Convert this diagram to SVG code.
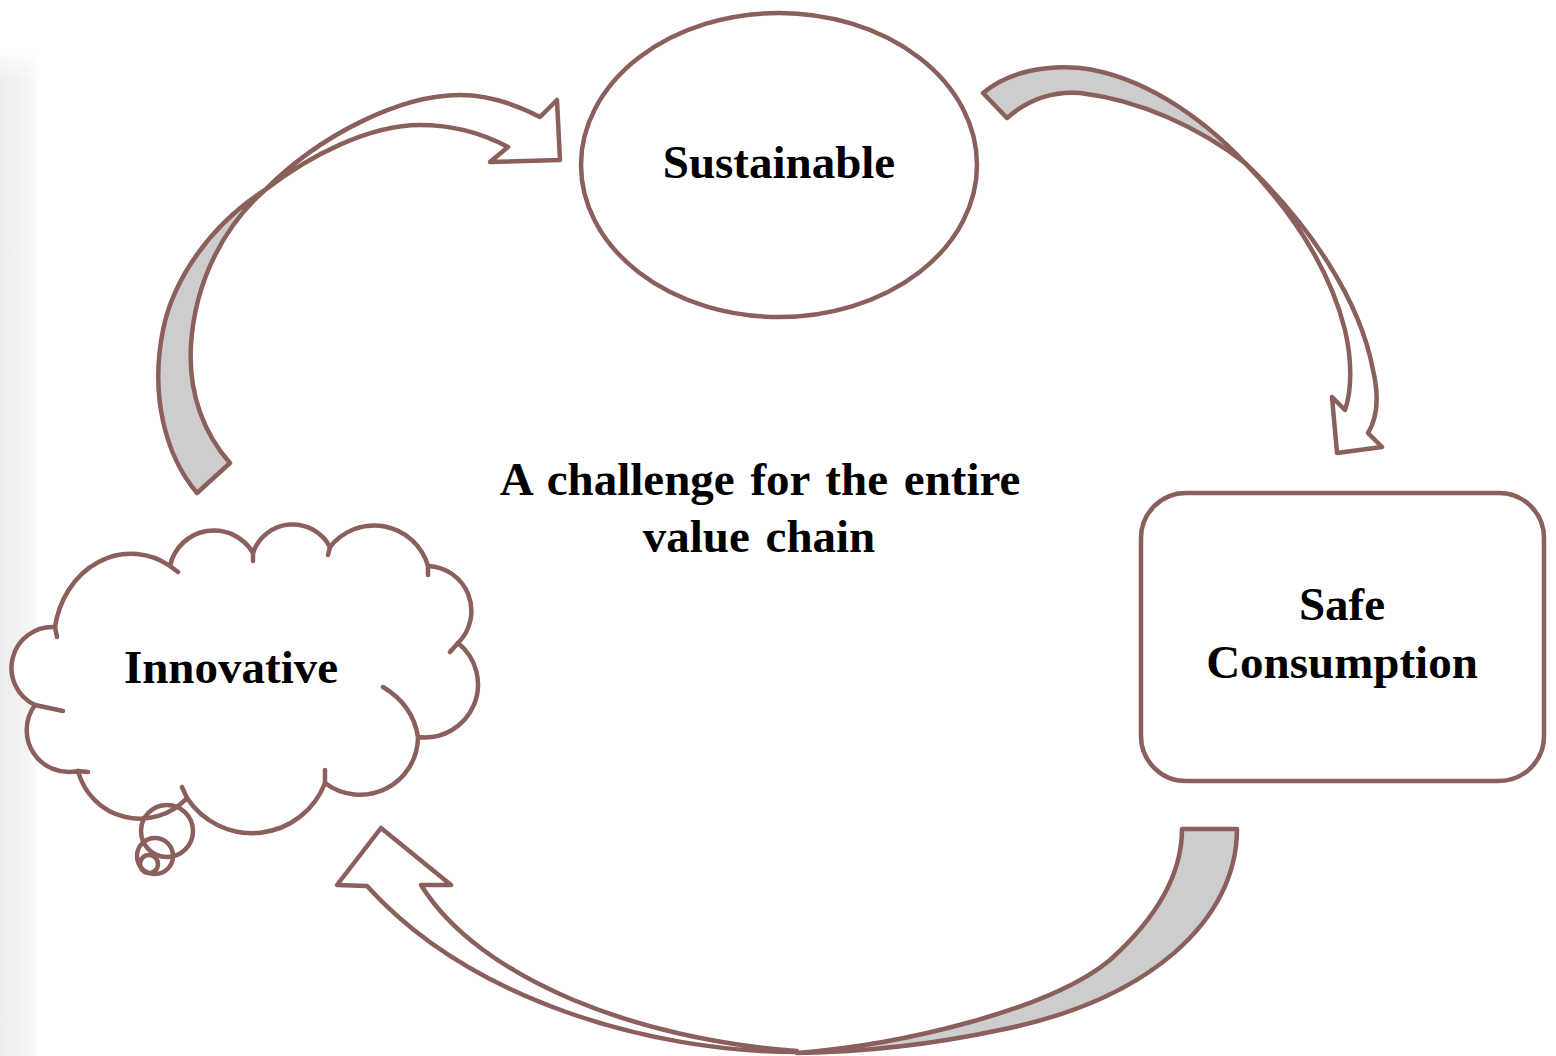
<svg xmlns="http://www.w3.org/2000/svg" width="1556" height="1056" viewBox="0 0 1556 1056">
<defs>
<linearGradient id="shadow" x1="0" y1="0" x2="1" y2="0">
<stop offset="0" stop-color="#ececec"/>
<stop offset="0.7" stop-color="#f4f4f4"/>
<stop offset="1" stop-color="#ffffff"/>
</linearGradient>
<linearGradient id="shadowTop" x1="0" y1="0" x2="0" y2="1">
<stop offset="0" stop-color="#ffffff" stop-opacity="1"/>
<stop offset="1" stop-color="#ffffff" stop-opacity="0"/>
</linearGradient>
</defs>
<style>
.ln{stroke:#8a5f5c;stroke-width:4.5;stroke-linejoin:round;stroke-linecap:round}
.wh{fill:#ffffff}
.gy{fill:#cdcdcd}
.no{fill:none}
.lbl{font-family:"Liberation Serif","Times New Roman",serif;font-weight:bold;font-size:47px;fill:#000;text-anchor:middle}
.wide{word-spacing:4px}
</style>
<rect x="0" y="0" width="1556" height="1056" fill="#ffffff"/>
<rect x="0" y="55" width="40" height="1001" fill="url(#shadow)"/>
<rect x="0" y="50" width="40" height="30" fill="url(#shadowTop)"/>

<g id="connectors">
<g id="arrow-innovative-sustainable">
<path class="ln gy" d="M197,493 C165,455 150,395 163,330 C173,280 210,225 265,190 C225,225 195,280 191,345 C188,395 205,435 230,463 Z"/>
<path class="ln wh" d="M265,190 C320,135 400,95 460,95 C490,95 515,104 540,117 L557,100 L560,160 L490,162 L508,147 C480,132 450,125 420,125 C370,125 310,155 265,190 Z"/>
</g>
<g id="arrow-sustainable-safe">
<path class="ln gy" d="M983,93 C1010,70 1050,65 1080,68 C1140,75 1200,115 1245,163 C1200,128 1140,100 1080,93 C1050,91 1025,102 1007,118 Z"/>
<path class="ln wh" d="M1245,163 C1310,225 1360,300 1373,370 C1380,400 1376,420 1368,433 L1382,447 L1337,453 L1332,397 L1345,410 C1352,390 1352,360 1345,330 C1330,270 1295,215 1245,163 Z"/>
</g>
<g id="arrow-safe-innovative">
<path class="ln gy" d="M1237,829 C1237,920 1150,1000 1000,1030 C930,1045 860,1052 797,1053 C900,1045 1050,1010 1110,960 C1160,915 1182,870 1182,829 Z"/>
<path class="ln wh" d="M797,1052 C650,1052 470,1000 367,886 L337,885 L381,828 L451,885 L421,885 C480,980 640,1040 797,1051 Z"/>
</g>
</g>

<g id="node-sustainable">
<ellipse class="ln wh" cx="779" cy="165" rx="198" ry="152"/>
<text class="lbl" x="779" y="178">Sustainable</text>
</g>

<g id="node-safe-consumption">
<rect class="ln wh" x="1141" y="493" width="403" height="288" rx="45" ry="45"/>
<text class="lbl" x="1342" y="620">Safe</text>
<text class="lbl" x="1342" y="678">Consumption</text>
</g>

<g id="node-innovative">
<path class="ln wh" d="M55,627 A77 88 0 0 1 170,566 A45 45 0 0 1 253,553 A42 42 0 0 1 330,547 A56 56 0 0 1 428,566 A45 45 0 0 1 458,643 A53 53 0 0 1 418,737 A58 58 0 0 1 325,783 A78 78 0 0 1 187,798 A64 64 0 0 1 78,771 A42 42 0 0 1 35,705 A41 41 0 0 1 55,627 Z"/>
<path class="ln no" d="M55,627 L57,637 M170,566 L178,572 M253,553 L253,561 M330,547 L328,555 M428,566 L428,575 M458,643 L450,652 M383,687 Q413,705 418,737 M325,783 L325,770 M187,798 L182,787 M78,771 L88,772 M35,705 L63,711"/>
<circle class="ln no" cx="167" cy="831" r="26"/>
<circle class="ln no" cx="155" cy="856" r="18"/>
<circle class="ln no" cx="149" cy="864" r="9"/>
<text class="lbl" x="231" y="683">Innovative</text>
</g>

<g id="label-center">
<text class="lbl wide" x="760" y="495">A challenge for the entire</text>
<text class="lbl wide" x="759" y="552">value chain</text>
</g>
</svg>
